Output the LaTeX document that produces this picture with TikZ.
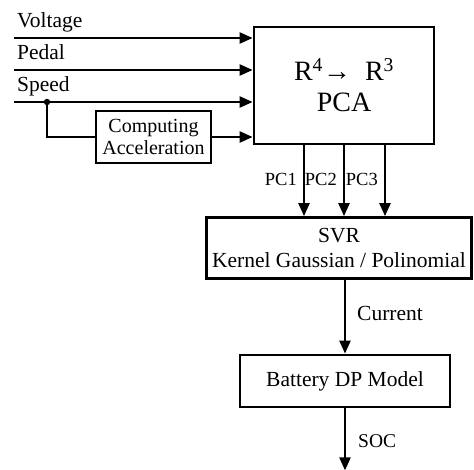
\documentclass[tikz,border=0pt]{standalone}
\usepackage{fontspec}
\setmainfont{Liberation Serif}
\usetikzlibrary{positioning,arrows.meta}

\begin{document}
\begin{tikzpicture}[
	x=1pt,y=-1pt,
	block/.style={
		draw,
		rectangle,
		line width=2.8pt,
		align=center,
		inner sep=0pt,
		font=\fontsize{21.5}{25}\selectfont
	},
	lbl/.style={
		inner sep=0pt,
		font=\fontsize{21.5}{25}\selectfont
	},
	small/.style={
		inner sep=0pt,
		font=\fontsize{18.5}{20}\selectfont
	},
	wire/.style={
		line width=2.4pt
	},
	>={Triangle[length=13pt,width=11pt]}
	]
	\useasboundingbox (0,0) rectangle (474,470);
	\node[block, minimum width=180pt, minimum height=117pt, font=\fontsize{28}{31}\selectfont] (pca) at (344,85.5) {R\textsuperscript{4}→\ \ R\textsuperscript{3}\\PCA};
	\node[block, minimum width=115pt, minimum height=52pt, font=\fontsize{20}{22}\selectfont] (comp) at (153.5,137) {Computing\\Acceleration};
	\node[block, minimum width=265pt, minimum height=61pt] (svr) at (339,248) {SVR\\Kernel Gaussian / Polinomial};
	\node[block, minimum width=210pt, minimum height=52pt] (bat) at (345,381) {Battery DP Model};
	% inputs
	\foreach \ys/\nm in {38/Voltage,70/Pedal,102/Speed}
	{
		\coordinate (in\nm) at (14,\ys);
		\draw[wire,->] (in\nm) -- node[lbl, pos=0, anchor=base west, xshift=2pt, yshift=10.5pt] (lbl\nm) {\nm} (pca.west |- in\nm);
	}
	\coordinate (jct) at ([xshift=33pt]inSpeed);
	\fill (jct) circle (3.2pt);
	\draw[wire] (jct) |- (comp.west);
	\draw[wire,->] (comp.east) -- (pca.west |- comp.east);
	% principal components
	\foreach \dx [count=\n] in {-40,0,41}
	\draw[wire,->] ([xshift=\dx pt]pca.south) -- node[small, pos=0.57, anchor=base east, xshift=-6pt] (pc\n) {PC\n} ([xshift=\dx pt]pca.south |- svr.north);
	\draw[wire,->] (svr.south -| bat.north) -- node[lbl, pos=0.55, anchor=base west, xshift=11pt] (cur) {Current} (bat.north);
	\coordinate (socend) at ([yshift=-62pt]bat.south);
	\draw[wire,->] (bat.south) -- node[small, font=\fontsize{19.5}{22}\selectfont, pos=0.63, anchor=base west, xshift=12pt] (soc) {SOC} (socend);
\end{tikzpicture}
\end{document}
